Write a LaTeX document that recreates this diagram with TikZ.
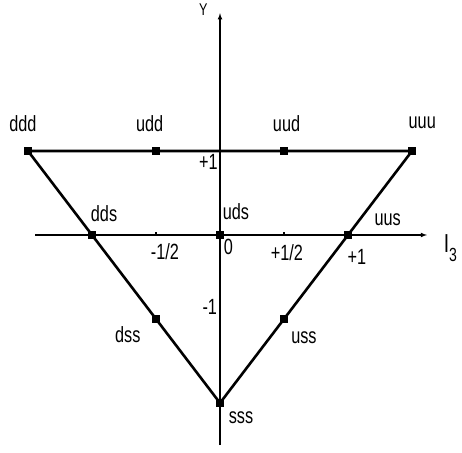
\documentclass[tikz,border=0pt]{standalone}
\usepackage{fontspec}
\setmainfont[FakeStretch=0.74]{Liberation Sans}

\begin{document}
\begin{tikzpicture}[x=128pt, y=84pt, >=latex,
    quark/.style={fill, inner sep=0pt, minimum size=8pt},
    lab/.style={inner sep=0pt, font=\fontsize{22}{26}\selectfont}]
    \useasboundingbox (-1.71875,-2.5952) rectangle (1.890625,2.7976);

    % 1. Hai truc I3 va Y
    \coordinate (ybot) at (0,-2.5);
    \coordinate (ytop) at (0,2.64);
    \coordinate (xleft) at (-1.445,0);
    \coordinate (xright) at (1.617,0);
    \draw[->, line width=1.1pt] (ybot) -- (ytop);
    \draw[->, line width=1.1pt] (xleft) -- (xright);
    % vach chia +-1/2
    \draw[line width=1.5pt] (-0.5,0) -- ++(0,3pt);
    \draw[line width=1.5pt] (0.5,0) -- ++(0,3pt);

    % 2. Cac trang thai baryon
    \node[quark] (ddd) at (-1.5,1) {};
    \node[quark] (udd) at (-0.5,1) {};
    \node[quark] (uud) at (0.5,1) {};
    \node[quark] (uuu) at (1.5,1) {};
    \node[quark] (dds) at (-1,0) {};
    \node[quark] (uds) at (0,0) {};
    \node[quark] (uus) at (1,0) {};
    \node[quark] (dss) at (-0.5,-1) {};
    \node[quark] (uss) at (0.5,-1) {};
    \node[quark] (sss) at (0,-2) {};

    % 3. Tam giac
    \draw[line width=2.6pt, line join=round] (ddd.center) -- (uuu.center) -- (sss.center) -- cycle;

    % 4. Nhan
    \node[lab] (l-ddd) at (-1.54,1.32) {ddd};
    \node[lab] (l-udd) at (-0.55,1.32) {udd};
    \node[lab] (l-uud) at (0.52,1.32) {uud};
    \node[lab] (l-uuu) at (1.58,1.33) {uuu};
    \node[lab] (l-dds) at (-0.906,0.25) {dds};
    \node[lab] (l-uds) at (0.125,0.274) {uds};
    \node[lab] (l-uus) at (1.31,0.18) {uus};
    \node[lab] (l-dss) at (-0.72,-1.19) {dss};
    \node[lab] (l-uss) at (0.656,-1.226) {uss};
    \node[lab] (l-sss) at (0.164,-2.18) {sss};

    \node[lab] (y-plus) at (-0.09,0.87) {+1};
    \node[lab] (y-minus) at (-0.08,-0.857) {-1};
    \node[lab] (x-zero) at (0.066,-0.143) {0};
    \node[lab] (x-mhalf) at (-0.43,-0.2) {-1/2};
    \node[lab] (x-phalf) at (0.523,-0.214) {+1/2};
    \node[lab] (x-plus) at (1.07,-0.262) {+1};
    \node[lab, font=\fontsize{17}{20}\selectfont] (y-name) at (-0.13,2.685) {Y};
    \node[lab, font=\fontsize{26}{28}\selectfont] (x-name) at (1.80,-0.155)
        {I\raisebox{-9pt}{\fontsize{19}{20}\selectfont 3}};
\end{tikzpicture}
\end{document}
